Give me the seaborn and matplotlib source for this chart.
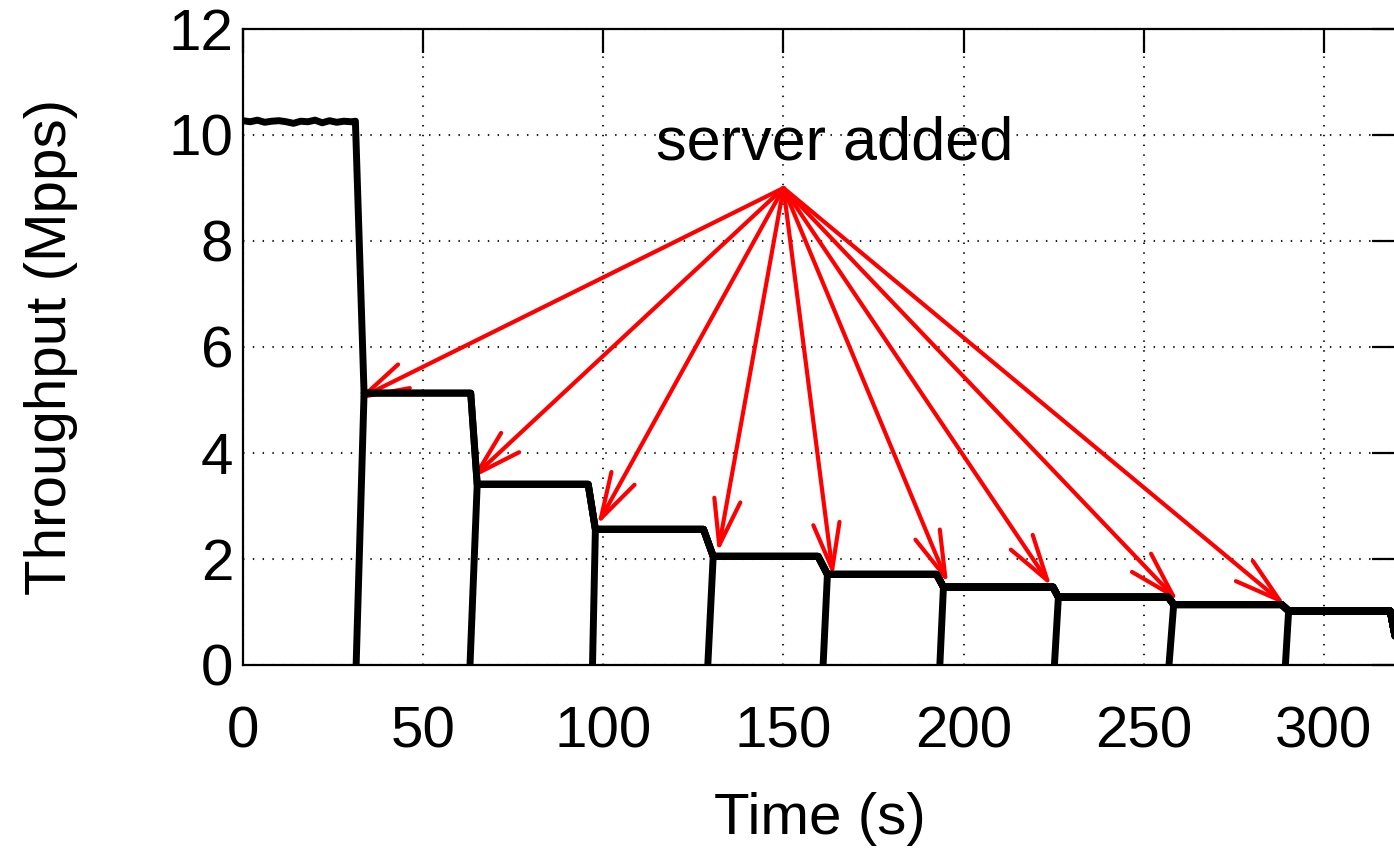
import numpy as np
import pandas as pd
import matplotlib
matplotlib.use("Agg")
import matplotlib.pyplot as plt
import seaborn as sns

# ---------------- data ----------------
# per-server throughput levels (Mpps) after each server is added
levels = [10.25, 5.13, 3.41, 2.56, 2.05, 1.71, 1.47, 1.28, 1.14, 1.02]
# time when existing servers start dropping at each addition (s)
drop_start = [31.2, 63.2, 95.8, 127.8, 159.6, 192.5, 224.8, 256.8, 288.3]
# time when the newly added server starts ramping up (s)
rise_start = [31.4, 63.0, 97.0, 129.0, 161.0, 193.4, 225.2, 257.0, 289.3]
# time when the new level is reached (s)
settle = [33.6, 65.0, 97.8, 130.5, 162.2, 194.4, 226.3, 258.3, 290.2]
# noisy first segment of server 1
first_t = [0, 2, 4, 6, 8, 10, 12, 14, 16, 18, 20, 22, 24, 26, 28, 30, 31.2]
first_v = [10.27, 10.25, 10.28, 10.24, 10.26, 10.27, 10.25, 10.22, 10.26,
           10.25, 10.28, 10.23, 10.27, 10.24, 10.26, 10.25, 10.26]
# tail of the trace at the right edge
tail_t = [318.4, 320.0]
tail_v = [1.02, 0.45]

# arrows "server added"
arrow_from = (150.0, 9.0)
arrow_x = [31.4, 63.3, 98.3, 131.8, 163.8, 195.7, 224.4, 259.6, 289.3]
arrow_y = [5.0, 3.51, 2.64, 2.12, 1.67, 1.53, 1.48, 1.20, 1.13]

xticks = [0, 50, 100, 150, 200, 250, 300]
yticks = [0, 2, 4, 6, 8, 10, 12]

# ---------------- build long-form table ----------------
rows = []
for k in range(len(levels)):
    pts = []
    if k == 0:
        pts += list(zip(first_t, first_v))
    else:
        pts.append((rise_start[k - 1], 0.0))
        pts.append((settle[k - 1], levels[k]))
    for j in range(k, len(drop_start)):
        pts.append((drop_start[j], levels[j]))
        pts.append((settle[j], levels[j + 1]))
    pts += list(zip(tail_t, tail_v))
    for t, v in pts:
        rows.append({"server": k, "time": t, "mpps": v})
df = pd.DataFrame(rows)

# ---------------- style ----------------
sns.set_theme(style="white")
plt.rcParams["font.family"] = ["Liberation Sans", "DejaVu Sans"]

fig = plt.figure(figsize=(13.94, 8.58), dpi=100)
ax = fig.add_axes([243 / 1394, 193 / 858, 1153 / 1394, 636 / 858])

ax.set_axisbelow(True)
ax.grid(True, linestyle=(0, (0.7, 4.0)), color="#222222", linewidth=1.5)

for tx, ty in zip(arrow_x, arrow_y):
    ax.annotate("", xy=(tx, ty), xytext=arrow_from, zorder=2,
                arrowprops=dict(arrowstyle="->,head_length=33,head_width=9.5",
                                mutation_scale=1, color="#ff0000", lw=3.0,
                                shrinkA=0, shrinkB=0))

sns.lineplot(data=df, x="time", y="mpps", units="server", estimator=None,
             sort=False, color="black", linewidth=5.0, legend=False, ax=ax,
             zorder=3)

ax.text(164.3, 9.54, "server added", ha="center", va="baseline",
        fontsize=44, color="black", zorder=4)

ax.set_xlim(0, 320)
ax.set_ylim(0, 12)
ax.set_xticks(xticks)
ax.set_yticks(yticks)
ax.set_xlabel("Time (s)", fontsize=42, color="black")
ax.set_ylabel("Throughput (Mpps)", fontsize=42, color="black")
ax.xaxis.set_label_coords(0.5, -0.20)
ax.yaxis.set_label_coords(-0.143, 0.5)

for s in ax.spines.values():
    s.set_color("black")
    s.set_linewidth(1.6)
    s.set_visible(True)
ax.tick_params(direction="in", length=17, width=1.6, top=True, right=True,
               labelsize=42, colors="black")
ax.tick_params(axis="x", pad=29)
ax.tick_params(axis="y", pad=7)

fig.savefig("out.png", dpi=100)
